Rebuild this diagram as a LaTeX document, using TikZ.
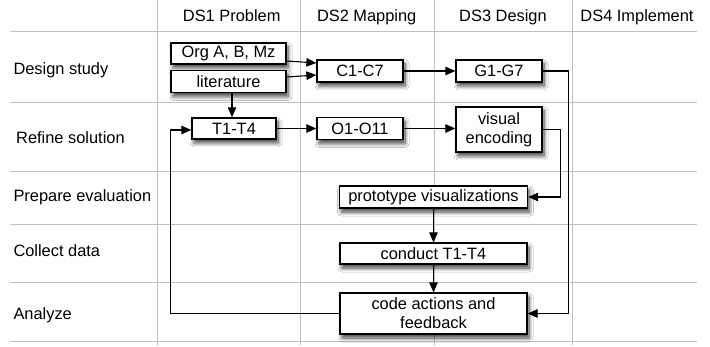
\documentclass[tikz,border=0pt]{standalone}
\usepackage{fontspec}
\setmainfont{Liberation Sans}
\usetikzlibrary{shadows.blur,arrows.meta,calc}
\begin{document}
\begin{tikzpicture}[x=1pt,y=-1pt, font=\fontsize{16.4}{19}\selectfont,
  grid/.style={draw=black!25, line width=1pt},
  box/.style={draw, fill=white, line width=1.3pt, inner sep=0pt, align=center,
    blur shadow={shadow xshift=2pt, shadow yshift=-4pt, shadow blur steps=8, shadow opacity=75, shadow blur radius=4pt}},
  arr/.style={line width=1.1pt, -{Triangle[length=10pt,width=8.5pt]}},
  lbl/.style={anchor=base west, inner sep=0pt},
  hdr/.style={anchor=base, inner sep=0pt}]
\useasboundingbox (0,0) rectangle (710,347);
\fill[white] (0,0) rectangle (710,347);
% grid
\foreach \y in {32,103,172,225,283,342} \draw[grid] (10,\y) -- (697,\y);
\foreach \x in {157,300,434,572} \draw[grid] (\x,0) -- (\x,345);
% headers
\node[hdr] (h1) at (231.7,21.7) {DS1 Problem};
\node[hdr] (h2) at (366.7,21.7) {DS2 Mapping};
\node[hdr] (h3) at (503,21.7) {DS3 Design};
\node[hdr] (h4) at (637,21.7) {DS4 Implement};
% row labels
\node[lbl] (r1) at (13.3,75) {Design study};
\node[lbl] (r2) at (16,143.3) {Refine solution};
\node[lbl] (r3) at (13.3,201.7) {Prepare evaluation};
\node[lbl] (r4) at (13.3,256.7) {Collect data};
\node[lbl] (r5) at (13.3,319.3) {Analyze};
% boxes
\node[box, minimum width=115pt, minimum height=21pt] (org) at (228.5,53.5) {Org A, B, Mz};
\node[box, minimum width=115pt, minimum height=22pt] (lit) at (228.5,81.5) {literature};
\node[box, minimum width=86pt, minimum height=22pt] (c17) at (360,71) {C1-C7};
\node[box, minimum width=84pt, minimum height=21pt] (t14) at (234,128.5) {T1-T4};
\node[box, minimum width=86pt, minimum height=22pt] (o111) at (360,128.5) {O1-O11};
\node[box, minimum width=86pt, minimum height=22pt] (g17) at (499,71) {G1-G7};
\node[box, minimum width=86pt, minimum height=45pt] (vis) at (499,129.5) {visual\\encoding};
\node[box, minimum width=188pt, minimum height=22pt] (proto) at (433.5,197) {prototype visualizations};
\node[box, minimum width=187pt, minimum height=21pt] (cond) at (433.5,253.5) {conduct T1-T4};
\node[box, minimum width=187pt, minimum height=41pt] (code) at (433.5,313.5) {code actions and\\feedback};
% connectors
\draw[arr] ($(org.east)+(0,7.5)$) -- ($(c17.west)+(0,-8)$);
\draw[arr] ($(lit.east)+(0,-4.5)$) -- ($(c17.west)+(0,4)$);
\draw[arr] ($(lit.south -| t14.north)+(-2,0)$) -- ($(t14.north)+(-2,0)$);
\draw[arr] (t14.east) -- (t14.east -| o111.west);
\draw[arr] (c17.east) -- (g17.west);
\draw[arr] (o111.east) -- (o111.east -| vis.west);
\draw[arr] (g17.east) -- ++(26,0) |- (code.east);
\draw[arr] (vis.east) -- ++(18,0) |- (proto.east);
\draw[arr] (proto.south) -- (proto.south |- cond.north);
\draw[arr] (cond.south) -- (cond.south |- code.north);
\draw[arr] (code.west) -- ++(-169,0) |- ($(t14.west)+(0,1.5)$);
\end{tikzpicture}
\end{document}
